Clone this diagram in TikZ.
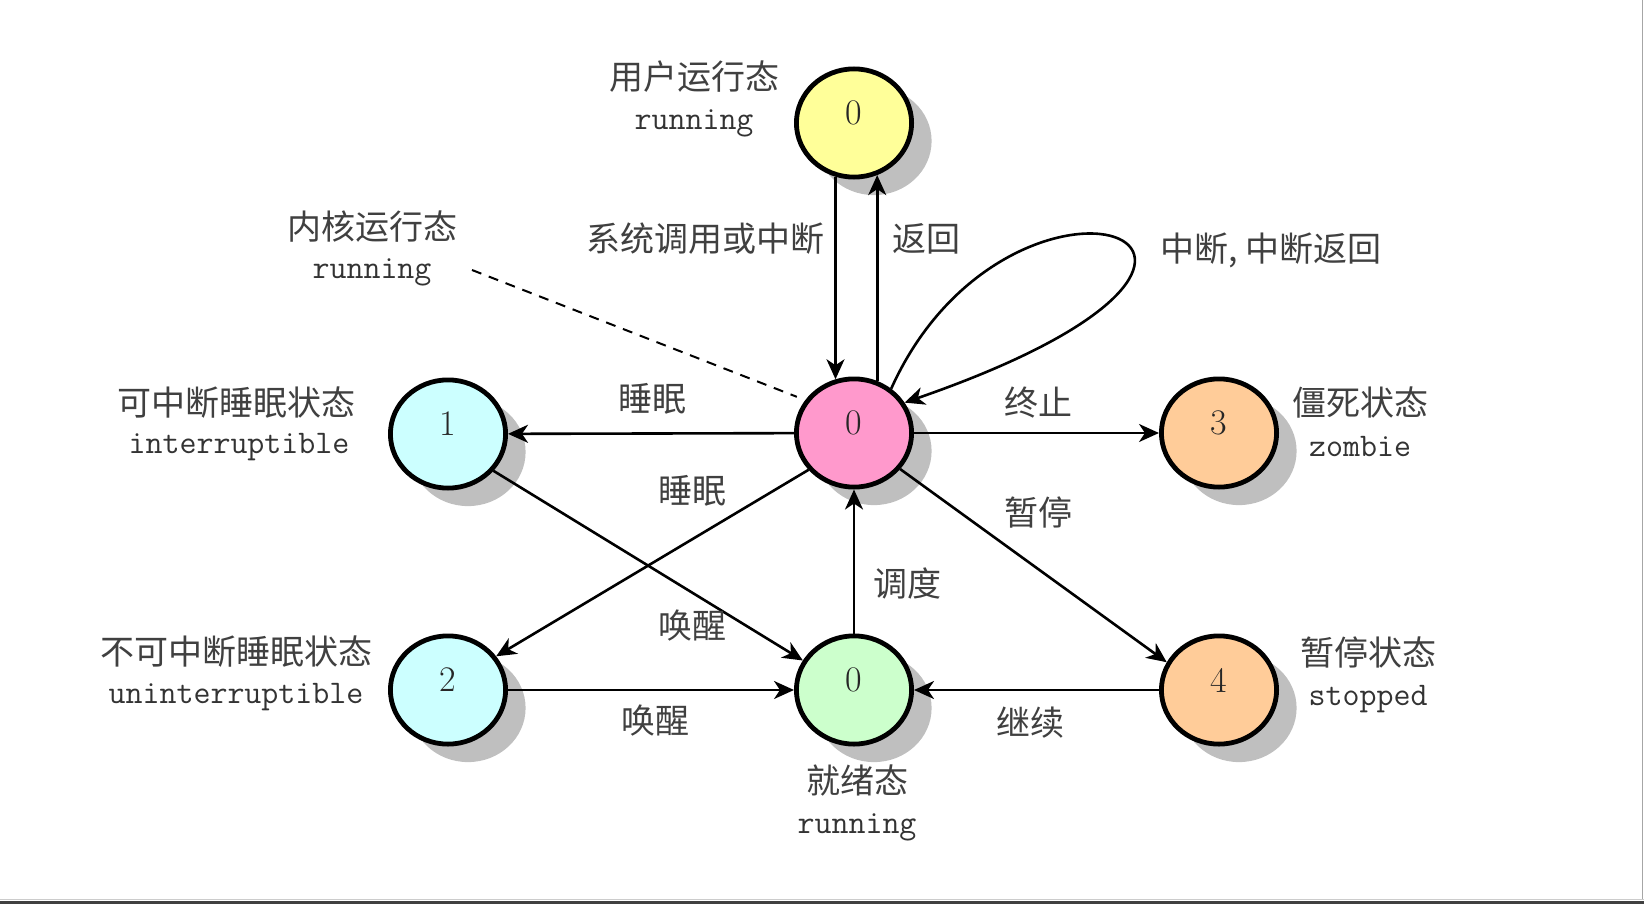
\documentclass[tikz,border=0pt]{standalone}
\usepackage{fontspec}
\newfontfamily\cjk{Noto Sans CJK SC}
\usetikzlibrary{arrows.meta,shapes.geometric,shadows}

\definecolor{runuser}{HTML}{FFFF99}
\definecolor{runkern}{HTML}{FF99CC}
\definecolor{sleepc}{HTML}{CCFFFF}
\definecolor{readyc}{HTML}{CCFFCC}
\definecolor{endc}{HTML}{FFCC99}

\begin{document}
\begin{tikzpicture}[x=0.5pt,y=-0.5pt,
    proc/.style={ellipse, draw=black, line width=2.4pt, minimum width=57.6pt, minimum height=54.1pt,
        inner sep=0pt, text=black!85, text depth=10pt, font=\fontsize{18pt}{20pt}\selectfont,
        drop shadow={shadow xshift=10pt, shadow yshift=-9pt, fill=black!25, opacity=1}},
    trans/.style={line width=1.3pt, -{Stealth[length=10pt,width=9pt,inset=3pt]}},
    cn/.style={text=black!75, font=\cjk\fontsize{17pt}{20pt}\selectfont},
    en/.style={text=black!80, font=\ttfamily\fontsize{16.5pt}{19pt}\selectfont}]
    \useasboundingbox (0,0) rectangle (1644,904);

    % process states
    \node[proc, fill=runuser] (user) at (854,123) {0};
    \node[proc, fill=runkern] (kern) at (854,433) {0};
    \node[proc, fill=sleepc]  (intr) at (448,434) {1};
    \node[proc, fill=sleepc]  (unintr) at (448,690) {2};
    \node[proc, fill=readyc]  (ready) at (854,690) {0};
    \node[proc, fill=endc]    (zombie) at (1219,433) {3};
    \node[proc, fill=endc]    (stopped) at (1219,690) {4};

    % state names
    \node[cn] (userzh) at (694,77) {用户运行态};
    \node[en] (useren) at (694,123) {running};
    \node[cn] (kernzh) at (372,227) {内核运行态};
    \node[en] (kernen) at (372,272) {running};
    \node[cn] (intrzh) at (236,403) {可中断睡眠状态};
    \node[en] (intren) at (239,447) {interruptible};
    \node[cn] (unintrzh) at (236,652) {不可中断睡眠状态};
    \node[en] (unintren) at (236,697) {uninterruptible};
    \node[cn] (zombiezh) at (1360,403) {僵死状态};
    \node[en] (zombieen) at (1360,447) {zombie};
    \node[cn] (stoppedzh) at (1368,652) {暂停状态};
    \node[en] (stoppeden) at (1368,699) {stopped};
    \node[cn] (readyzh) at (857,781) {就绪态};
    \node[en] (readyen) at (857,827) {running};

    % transitions
    \draw[trans] (user.251) -- (kern.109);
    \draw[trans] (kern.66) -- (user.294);
    \draw[trans] (kern.50) .. controls (1010,125) and (1360,245) .. (kern.31);
    \draw[trans] (kern) -- (intr);
    \draw[trans] (kern) -- (zombie);
    \draw[trans] (kern.219) -- (unintr.35);
    \draw[trans] (intr.321) -- (ready.150);
    \draw[trans] (unintr) -- (ready);
    \draw[trans] (ready) -- (kern);
    \draw[trans] (kern.322) -- (stopped.152);
    \draw[trans] (stopped) -- (ready);

    % kernel running pointer
    \coordinate (kerntip) at (472,270);
    \draw[line width=1pt, dash pattern=on 5pt off 4pt, shorten >=4.5pt] (kerntip) -- (kern.146);

    % transition labels
    \node[cn] (lsyscall) at (705,239) {系统调用或中断};
    \node[cn] (lreturn) at (926,239) {返回};
    \node[cn] (lirq) at (1271,250) {中断, 中断返回};
    \node[cn] (lsleep1) at (652,399) {睡眠};
    \node[cn] (lexit) at (1038,403) {终止};
    \node[cn] (lsleep2) at (692,491) {睡眠};
    \node[cn] (lwake1) at (692,626) {唤醒};
    \node[cn] (lwake2) at (655,721) {唤醒};
    \node[cn] (lsched) at (907,583) {调度};
    \node[cn] (lstop) at (1038,512) {暂停};
    \node[cn] (lcont) at (1030,723) {继续};

    % window edge
    \draw[black!35, line width=0.5pt] (1642,0) -- (1642,900);
    \draw[black!20, line width=0.5pt] (0,899.5) -- (1644,899.5);
    \fill[black!75] (0,901) rectangle (1644,904);
\end{tikzpicture}
\end{document}
